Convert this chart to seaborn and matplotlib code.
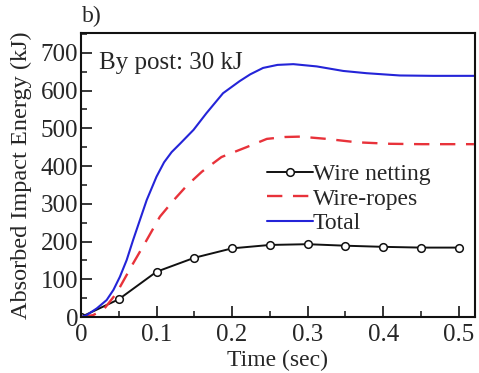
import matplotlib
matplotlib.use("Agg")
import matplotlib.pyplot as plt
from matplotlib.ticker import MultipleLocator
import seaborn as sns
import pandas as pd

# wire netting (sampled at the circle markers)
net_t = [0.0, 0.05, 0.1, 0.15, 0.2, 0.25, 0.3, 0.35, 0.4, 0.45, 0.5]
net_e = [0, 47, 120, 157, 182, 191, 193, 189, 186, 184, 184]

# wire ropes (dashed)
rope_t = [0.0, 0.016, 0.03, 0.047, 0.069, 0.087, 0.1045, 0.122, 0.14, 0.16,
          0.186, 0.219, 0.246, 0.27, 0.29, 0.325, 0.365, 0.409, 0.45, 0.52]
rope_e = [0, 5, 20, 63, 142, 204, 266, 308, 348, 385,
          424, 450, 472, 477, 478, 472, 463, 459, 458, 458]

# total (solid blue)
tot_t = [0.0, 0.0075, 0.021, 0.034, 0.043, 0.0516, 0.0605, 0.069, 0.078, 0.087,
         0.1, 0.11, 0.12, 0.131, 0.149, 0.166, 0.188, 0.21, 0.224, 0.241, 0.26,
         0.281, 0.312, 0.347, 0.378, 0.422, 0.466, 0.52]
tot_e = [0, 5, 23, 45, 72, 107, 151, 204, 257, 310,
         372, 410, 437, 459, 496, 540, 593, 625, 643, 660, 668,
         670, 664, 652, 646, 640, 639, 639]

sns.set_style("ticks")
plt.rcParams['font.family'] = ['Liberation Serif', 'DejaVu Serif']

fig, ax = plt.subplots(figsize=(4.79, 3.73), dpi=100)
fig.subplots_adjust(left=0.169, right=0.991, bottom=0.150, top=0.911)

net = pd.DataFrame({'t': net_t, 'e': net_e})
rope = pd.DataFrame({'t': rope_t, 'e': rope_e})
tot = pd.DataFrame({'t': tot_t, 'e': tot_e})

sns.lineplot(data=net, x='t', y='e', ax=ax, color='#111111', lw=1.4,
             marker='o', markersize=5.5, markerfacecolor='white',
             markeredgecolor='#111111', markeredgewidth=1.1,
             label='Wire netting')
sns.lineplot(data=rope, x='t', y='e', ax=ax, color='#e8323a', lw=1.7,
             label='Wire-ropes')
ax.lines[-1].set_dashes([6.5, 4.5])
sns.lineplot(data=tot, x='t', y='e', ax=ax, color='#2424d8', lw=1.5,
             label='Total')

ax.set_xlim(0, 0.521)
ax.set_ylim(0, 752)
ax.xaxis.set_minor_locator(MultipleLocator(0.05))
ax.yaxis.set_minor_locator(MultipleLocator(50))
ax.set_xticks([0, 0.1, 0.2, 0.3, 0.4, 0.5])
ax.set_xticklabels(['0', '0.1', '0.2', '0.3', '0.4', '0.5'])
ax.set_yticks(range(0, 701, 100))
ax.set_yticklabels(['0', '100', '200', '300', '400', '500', '600', '700'])

ax.tick_params(axis='x', which='major', pad=5)
ax.tick_params(axis='y', which='major', pad=2)
ax.tick_params(which='major', direction='in', length=8, width=1.3,
               labelsize=18, top=False, right=False)
ax.tick_params(which='minor', direction='in', length=4, width=1.2,
               top=False, right=False)
for s in ax.spines.values():
    s.set_linewidth(1.5)
    s.set_color('#111111')

ax.set_xlabel('Time (sec)', fontsize=17, labelpad=3)
ax.set_ylabel('Absorbed Impact Energy (kJ)', fontsize=17.5, labelpad=6)

ax.text(0.045, 0.935, 'By post: 30 kJ', transform=ax.transAxes,
        fontsize=18, va='top', ha='left')
fig.text(0.171, 0.957, 'b)', fontsize=17, va='center', ha='left')

leg = ax.legend(loc='upper left', bbox_to_anchor=(0.472, 0.54), frameon=False,
                fontsize=17, handlelength=1.95, handletextpad=0.0,
                labelspacing=0.12, borderaxespad=0, borderpad=0)

fig.savefig('out.png', dpi=100)
